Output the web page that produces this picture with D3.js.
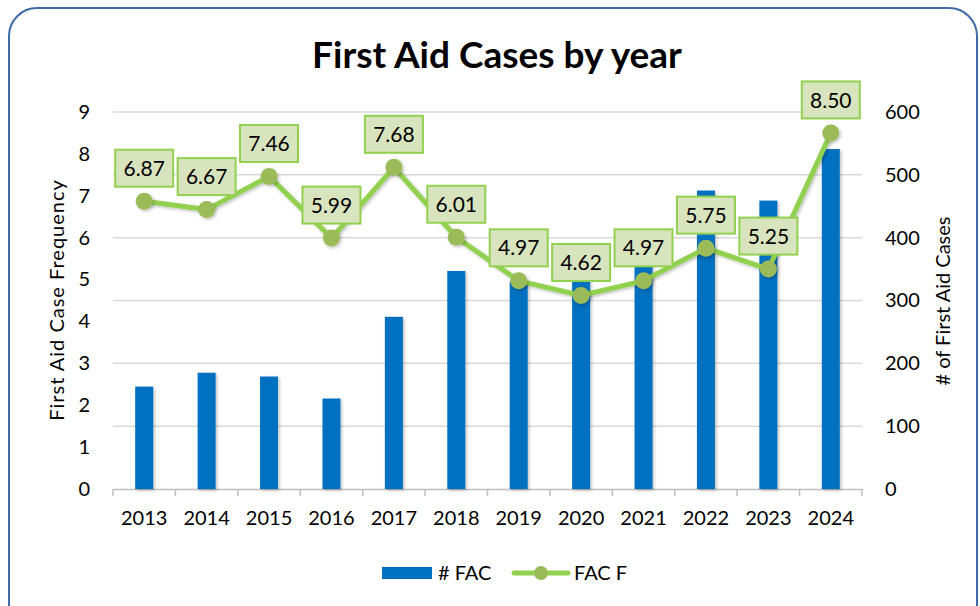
<!DOCTYPE html>
<html>
<head>
<meta charset="utf-8">
<script src="https://cdn.jsdelivr.net/npm/d3@7"></script>
<style>
  body { margin: 0; background: #fff; }
  text { font-family: Lato, "Open Sans", sans-serif; fill: #000; }
</style>
</head>
<body>
<script>
// Data
const years = ["2013", "2014", "2015", "2016", "2017", "2018", "2019", "2020", "2021", "2022", "2023", "2024"];
const fac = [163, 185, 179, 144, 274, 347, 330, 336, 358, 475, 459, 541];
const facF = [6.87, 6.67, 7.46, 5.99, 7.68, 6.01, 4.97, 4.62, 4.97, 5.75, 5.25, 8.50];
const leftTicks = [0, 1, 2, 3, 4, 5, 6, 7, 8, 9];
const rightTicks = [0, 100, 200, 300, 400, 500, 600];

const W = 980, H = 606;
const plot = { left: 113, right: 862, top: 112, bottom: 489 };

const svg = d3.select("body").append("svg")
  .attr("width", W)
  .attr("height", H);

const defs = svg.append("defs");
const shadow = defs.append("filter").attr("id", "shadow")
  .attr("x", "-30%").attr("y", "-30%").attr("width", "160%").attr("height", "160%");
shadow.append("feDropShadow")
  .attr("dx", 1.5).attr("dy", 1.5).attr("stdDeviation", 1.5)
  .attr("flood-color", "#000").attr("flood-opacity", 0.25);

// frame
svg.append("rect")
  .attr("x", 9).attr("y", 8)
  .attr("width", 968).attr("height", 640)
  .attr("rx", 28)
  .attr("fill", "none")
  .attr("stroke", "#3f6ca6")
  .attr("stroke-width", 2);

// scales
const x = d3.scaleBand().domain(years).range([plot.left, plot.right]);
const yL = d3.scaleLinear().domain([0, 9]).range([plot.bottom, plot.top]);
const yR = d3.scaleLinear().domain([0, 600]).range([plot.bottom, plot.top]);

// gridlines
svg.append("g")
  .selectAll("line")
  .data(rightTicks.slice(1))
  .join("line")
  .attr("x1", plot.left).attr("x2", plot.right)
  .attr("y1", (d) => yR(d)).attr("y2", (d) => yR(d))
  .attr("stroke", "#d9d9d9")
  .attr("stroke-width", 1.5);

// x axis
const gx = svg.append("g")
  .attr("transform", `translate(0,${plot.bottom})`)
  .call(d3.axisBottom(x).tickSize(0).tickPadding(22));
gx.select(".domain").attr("stroke", "#bfbfbf").attr("stroke-width", 1.5);
gx.selectAll(".tick text")
  .attr("font-size", 20)
  .attr("font-family", "Lato, sans-serif")
  .attr("fill", "#000");
gx.selectAll(".boundary")
  .data(d3.range(years.length + 1))
  .join("line")
  .attr("class", "boundary")
  .attr("x1", (i) => plot.left + i * x.step())
  .attr("x2", (i) => plot.left + i * x.step())
  .attr("y1", 0).attr("y2", 7)
  .attr("stroke", "#bfbfbf")
  .attr("stroke-width", 1.5);

// left axis
const gl = svg.append("g")
  .attr("transform", `translate(${plot.left},0)`)
  .call(d3.axisLeft(yL).tickValues(leftTicks).tickSize(0).tickPadding(23));
gl.select(".domain").remove();
gl.selectAll(".tick text")
  .attr("font-size", 20)
  .attr("font-family", "Lato, sans-serif")
  .attr("fill", "#000");

// right axis
const gr = svg.append("g")
  .attr("transform", `translate(${plot.right},0)`)
  .call(d3.axisRight(yR).tickValues(rightTicks).tickSize(0).tickPadding(23));
gr.select(".domain").remove();
gr.selectAll(".tick text")
  .attr("font-size", 20)
  .attr("font-family", "Lato, sans-serif")
  .attr("fill", "#000");

// axis titles
svg.append("text")
  .attr("transform", `translate(64,300) rotate(-90)`)
  .attr("text-anchor", "middle")
  .attr("font-size", 20)
  .attr("letter-spacing", 1)
  .text("First Aid Case Frequency");

svg.append("text")
  .attr("transform", `translate(950,301) rotate(-90)`)
  .attr("text-anchor", "middle")
  .attr("font-size", 20)
  .text("# of First Aid Cases");

// title
svg.append("text")
  .attr("x", 497).attr("y", 68)
  .attr("text-anchor", "middle")
  .attr("font-size", 37)
  .attr("font-weight", "bold")
  .text("First Aid Cases by year");

// bars
const barW = 18;
svg.append("g")
  .selectAll("rect")
  .data(years)
  .join("rect")
  .attr("x", (d) => x(d) + x.bandwidth() / 2 - barW / 2)
  .attr("y", (d, i) => yR(fac[i]))
  .attr("width", barW)
  .attr("height", (d, i) => yR(0) - yR(fac[i]))
  .attr("fill", "#0070c0")
  .attr("filter", "url(#shadow)");

// line
const cx = (d) => x(d) + x.bandwidth() / 2;
const line = d3.line()
  .x((d) => cx(d))
  .y((d, i) => yL(facF[i]));

svg.append("path")
  .datum(years)
  .attr("d", line)
  .attr("fill", "none")
  .attr("stroke", "#92d050")
  .attr("stroke-width", 5)
  .attr("stroke-linejoin", "round")
  .attr("filter", "url(#shadow)");

svg.append("g")
  .selectAll("circle")
  .data(years)
  .join("circle")
  .attr("cx", cx)
  .attr("cy", (d, i) => yL(facF[i]))
  .attr("r", 8.5)
  .attr("fill", "#9bbb59")
  .attr("filter", "url(#shadow)");

// data labels
const lbl = svg.append("g")
  .selectAll("g")
  .data(years)
  .join("g")
  .attr("transform", (d, i) => `translate(${cx(d)},${yL(facF[i]) - 33})`);

lbl.append("rect")
  .attr("x", -29).attr("y", -18.5)
  .attr("width", 58).attr("height", 37)
  .attr("fill", "#d8e4bd")
  .attr("stroke", "#92d050")
  .attr("stroke-width", 2);

lbl.append("text")
  .attr("text-anchor", "middle")
  .attr("dy", "0.36em")
  .attr("font-size", 21)
  .text((d, i) => facF[i].toFixed(2));

// legend
const leg = svg.append("g");
leg.append("rect")
  .attr("x", 382).attr("y", 567)
  .attr("width", 50).attr("height", 12)
  .attr("fill", "#0070c0");
leg.append("text")
  .attr("x", 438).attr("y", 573)
  .attr("dy", "0.36em")
  .attr("font-size", 20)
  .text("# FAC");
leg.append("line")
  .attr("x1", 514).attr("x2", 568)
  .attr("y1", 573).attr("y2", 573)
  .attr("stroke", "#92d050")
  .attr("stroke-width", 5)
  .attr("stroke-linecap", "round");
leg.append("circle")
  .attr("cx", 541).attr("cy", 573)
  .attr("r", 7)
  .attr("fill", "#9bbb59");
leg.append("text")
  .attr("x", 574).attr("y", 573)
  .attr("dy", "0.36em")
  .attr("font-size", 20)
  .text("FAC F");
</script>
</body>
</html>
